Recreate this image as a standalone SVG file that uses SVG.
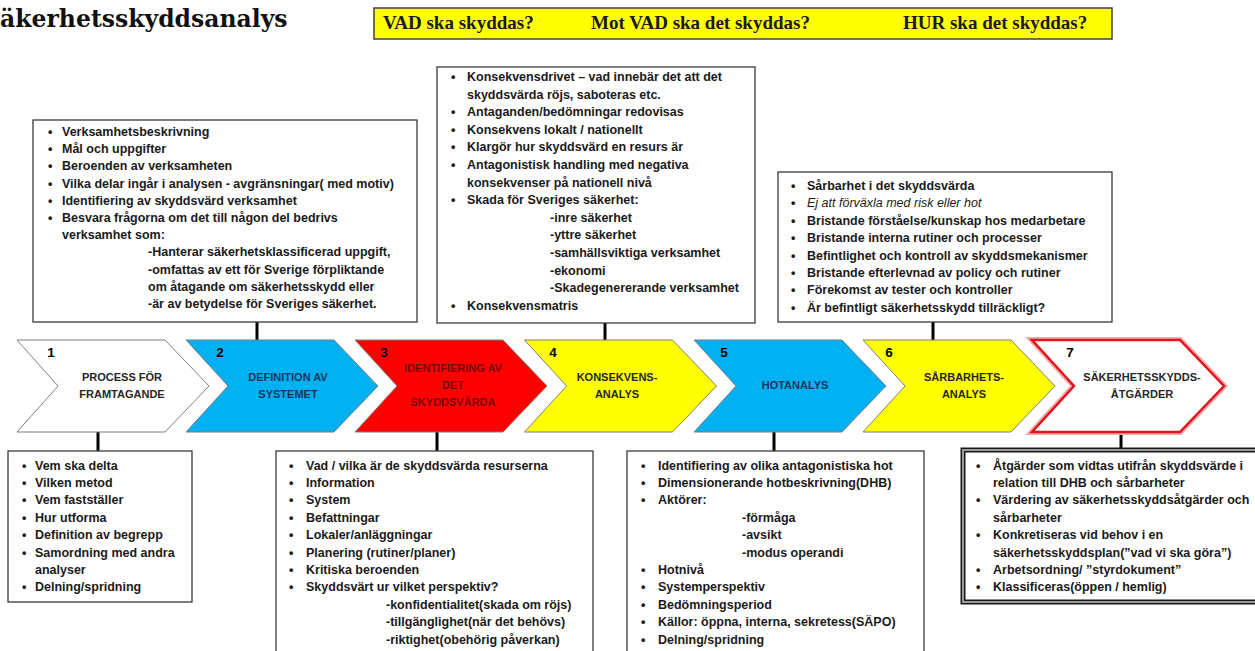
<svg xmlns="http://www.w3.org/2000/svg" width="1255" height="651" viewBox="0 0 1255 651">
<defs>
<style>
.t{font-family:"Liberation Sans",Arial,sans-serif;font-size:12.5px;font-weight:bold;fill:#1a1a1a}
.it{font-style:italic;font-weight:normal}
.box{fill:#ffffff;stroke:#3a3a3a;stroke-width:1.3}
.chev{stroke:#7f7f7f;stroke-width:1}
.ct{font-family:"Liberation Sans",Arial,sans-serif;font-size:11px;font-weight:bold;text-anchor:middle}
.num{font-family:"Liberation Sans",Arial,sans-serif;font-size:13.5px;font-weight:bold;fill:#000;text-anchor:middle}
.hdr{font-family:"Liberation Serif","Times New Roman",serif;font-size:19px;font-weight:bold;fill:#1a1a1a}
.title{font-family:"DejaVu Serif","Liberation Serif",serif;font-size:23.5px;font-weight:bold;fill:#111}
.conn line{stroke:#000;stroke-width:3}
</style>
</defs>
<rect width="1255" height="651" fill="#ffffff"/>

<g id="title">
<text class="title" x="0" y="27">äkerhetsskyddsanalys</text>
</g>

<g id="header">
<rect x="374" y="8" width="738" height="31" fill="#ffff00" stroke="#404040" stroke-width="1.5"/>
<text class="hdr" x="383" y="29">VAD ska skyddas?</text>
<text class="hdr" x="591" y="29">Mot VAD ska det skyddas?</text>
<text class="hdr" x="903" y="29">HUR ska det skyddas?</text>
</g>

<g id="connectors" class="conn">
<line x1="257" y1="322" x2="257" y2="340"/>
<line x1="605" y1="323" x2="605" y2="340"/>
<line x1="933" y1="322" x2="933" y2="340"/>
<line x1="98" y1="432" x2="98" y2="451"/>
<line x1="437" y1="432" x2="437" y2="451"/>
<line x1="774" y1="432" x2="774" y2="451"/>
<line x1="1121" y1="432" x2="1121" y2="450"/>
</g>

<g id="step1">
<polygon class="chev" fill="#ffffff" points="17,340 165,340 209,386 165,432 17,432 58,386"/>
<text class="num" x="51" y="357">1</text>
<text class="ct" fill="#262626" x="122" y="381">PROCESS FÖR</text>
<text class="ct" fill="#262626" x="122" y="398">FRAMTAGANDE</text>
</g>
<g id="step2">
<polygon class="chev" fill="#00b0f0" points="186,340 334,340 378,386 334,432 186,432 228,386"/>
<text class="num" x="220" y="357">2</text>
<text class="ct" fill="#17375e" x="288" y="381">DEFINITION AV</text>
<text class="ct" fill="#17375e" x="288" y="398">SYSTEMET</text>
</g>
<g id="step3">
<polygon class="chev" fill="#ff0000" points="355,340 503,340 547,386 503,432 355,432 397,386"/>
<text class="num" x="384" y="357">3</text>
<text class="ct" fill="#7a0000" x="453" y="372">IDENTIFIERING AV</text>
<text class="ct" fill="#7a0000" x="453" y="389">DET</text>
<text class="ct" fill="#7a0000" x="453" y="406">SKYDDSVÄRDA</text>
</g>
<g id="step4">
<polygon class="chev" fill="#ffff00" points="524.5,340 672.5,340 716.5,386 672.5,432 524.5,432 566.5,386"/>
<text class="num" x="553" y="357">4</text>
<text class="ct" fill="#262626" x="617" y="381">KONSEKVENS-</text>
<text class="ct" fill="#262626" x="617" y="398">ANALYS</text>
</g>
<g id="step5">
<polygon class="chev" fill="#00b0f0" points="694,340 842,340 886,386 842,432 694,432 736,386"/>
<text class="num" x="724" y="357">5</text>
<text class="ct" fill="#17375e" x="795" y="389">HOTANALYS</text>
</g>
<g id="step6">
<polygon class="chev" fill="#ffff00" points="863,340 1011,340 1055,386 1011,432 863,432 905,386"/>
<text class="num" x="889" y="357">6</text>
<text class="ct" fill="#262626" x="964" y="381">SÅRBARHETS-</text>
<text class="ct" fill="#262626" x="964" y="398">ANALYS</text>
</g>
<g id="step7">
<polygon fill="#ffffff" stroke="#f7a8a8" stroke-width="6" points="1032,340 1180,340 1224,386 1180,432 1032,432 1074,386"/>
<polygon fill="#ffffff" stroke="#e3141b" stroke-width="2.5" points="1032,340 1180,340 1224,386 1180,432 1032,432 1074,386"/>
<text class="num" x="1070" y="357">7</text>
<text class="ct" fill="#262626" x="1142" y="381">SÄKERHETSSKYDDS-</text>
<text class="ct" fill="#262626" x="1142" y="398">ÅTGÄRDER</text>
</g>

<g id="box-top1">
<rect class="box" x="33" y="120" width="384" height="202"/>
<text class="t" x="48" y="136">•</text><text class="t" x="62" y="136">Verksamhetsbeskrivning</text>
<text class="t" x="48" y="153.2">•</text><text class="t" x="62" y="153.2">Mål och uppgifter</text>
<text class="t" x="48" y="170.4">•</text><text class="t" x="62" y="170.4">Beroenden av verksamheten</text>
<text class="t" x="48" y="187.6">•</text><text class="t" x="62" y="187.6">Vilka delar ingår i analysen - avgränsningar( med motiv)</text>
<text class="t" x="48" y="204.8">•</text><text class="t" x="62" y="204.8">Identifiering av skyddsvärd verksamhet</text>
<text class="t" x="48" y="222">•</text><text class="t" x="62" y="222">Besvara frågorna om det till någon del bedrivs</text>
<text class="t" x="62" y="239.2">verksamhet som:</text>
<text class="t" x="148" y="256.4">-Hanterar säkerhetsklassificerad uppgift,</text>
<text class="t" x="148" y="273.6">-omfattas av ett för Sverige förpliktande</text>
<text class="t" x="148" y="290.8">om åtagande om säkerhetsskydd eller</text>
<text class="t" x="148" y="308">-är av betydelse för Sveriges säkerhet.</text>
</g>

<g id="box-top2">
<rect class="box" x="437" y="67" width="318" height="256"/>
<text class="t" x="451" y="81">•</text><text class="t" x="467" y="81">Konsekvensdrivet – vad innebär det att det</text>
<text class="t" x="467" y="98.6">skyddsvärda röjs, saboteras etc.</text>
<text class="t" x="451" y="116.2">•</text><text class="t" x="467" y="116.2">Antaganden/bedömningar redovisas</text>
<text class="t" x="451" y="133.8">•</text><text class="t" x="467" y="133.8">Konsekvens lokalt / nationellt</text>
<text class="t" x="451" y="151.4">•</text><text class="t" x="467" y="151.4">Klargör hur skyddsvärd en resurs är</text>
<text class="t" x="451" y="169">•</text><text class="t" x="467" y="169">Antagonistisk handling med negativa</text>
<text class="t" x="467" y="186.6">konsekvenser på nationell nivå</text>
<text class="t" x="451" y="204.2">•</text><text class="t" x="467" y="204.2">Skada för Sveriges säkerhet:</text>
<text class="t" x="550" y="221.8">-inre säkerhet</text>
<text class="t" x="550" y="239.4">-yttre säkerhet</text>
<text class="t" x="550" y="257">-samhällsviktiga verksamhet</text>
<text class="t" x="550" y="274.6">-ekonomi</text>
<text class="t" x="550" y="292.2">-Skadegenererande verksamhet</text>
<text class="t" x="451" y="309.8">•</text><text class="t" x="467" y="309.8">Konsekvensmatris</text>
</g>

<g id="box-top3">
<rect class="box" x="778" y="172" width="334" height="150"/>
<text class="t" x="791" y="190">•</text><text class="t" x="807" y="190">Sårbarhet i det skyddsvärda</text>
<text class="t" x="791" y="207.4">•</text><text class="t it" x="807" y="207.4">Ej att förväxla med risk eller hot</text>
<text class="t" x="791" y="224.8">•</text><text class="t" x="807" y="224.8">Bristande förståelse/kunskap hos medarbetare</text>
<text class="t" x="791" y="242.2">•</text><text class="t" x="807" y="242.2">Bristande interna rutiner och processer</text>
<text class="t" x="791" y="259.6">•</text><text class="t" x="807" y="259.6">Befintlighet och kontroll av skyddsmekanismer</text>
<text class="t" x="791" y="277">•</text><text class="t" x="807" y="277">Bristande efterlevnad av policy och rutiner</text>
<text class="t" x="791" y="294.4">•</text><text class="t" x="807" y="294.4">Förekomst av tester och kontroller</text>
<text class="t" x="791" y="311.8">•</text><text class="t" x="807" y="311.8">Är befintligt säkerhetsskydd tillräckligt?</text>
</g>

<g id="box-bottom1">
<rect class="box" x="8" y="451" width="184" height="151"/>
<text class="t" x="22" y="469.5">•</text><text class="t" x="35" y="469.5">Vem ska delta</text>
<text class="t" x="22" y="486.9">•</text><text class="t" x="35" y="486.9">Vilken metod</text>
<text class="t" x="22" y="504.3">•</text><text class="t" x="35" y="504.3">Vem fastställer</text>
<text class="t" x="22" y="521.7">•</text><text class="t" x="35" y="521.7">Hur utforma</text>
<text class="t" x="22" y="539.1">•</text><text class="t" x="35" y="539.1">Definition av begrepp</text>
<text class="t" x="22" y="556.5">•</text><text class="t" x="35" y="556.5">Samordning med andra</text>
<text class="t" x="35" y="573.9">analyser</text>
<text class="t" x="22" y="591.3">•</text><text class="t" x="35" y="591.3">Delning/spridning</text>
</g>

<g id="box-bottom2">
<rect class="box" x="276" y="451" width="317" height="210"/>
<text class="t" x="289" y="469.5">•</text><text class="t" x="306" y="469.5">Vad / vilka är de skyddsvärda resurserna</text>
<text class="t" x="289" y="486.9">•</text><text class="t" x="306" y="486.9">Information</text>
<text class="t" x="289" y="504.3">•</text><text class="t" x="306" y="504.3">System</text>
<text class="t" x="289" y="521.7">•</text><text class="t" x="306" y="521.7">Befattningar</text>
<text class="t" x="289" y="539.1">•</text><text class="t" x="306" y="539.1">Lokaler/anläggningar</text>
<text class="t" x="289" y="556.5">•</text><text class="t" x="306" y="556.5">Planering (rutiner/planer)</text>
<text class="t" x="289" y="573.9">•</text><text class="t" x="306" y="573.9">Kritiska beroenden</text>
<text class="t" x="289" y="591.3">•</text><text class="t" x="306" y="591.3">Skyddsvärt ur vilket perspektiv?</text>
<text class="t" x="386" y="608.7">-konfidentialitet(skada om röjs)</text>
<text class="t" x="386" y="626.1">-tillgänglighet(när det behövs)</text>
<text class="t" x="386" y="643.5">-riktighet(obehörig påverkan)</text>
</g>

<g id="box-bottom3">
<rect class="box" x="627" y="451" width="297" height="210"/>
<text class="t" x="641" y="469.5">•</text><text class="t" x="658" y="469.5">Identifiering av olika antagonistiska hot</text>
<text class="t" x="641" y="486.9">•</text><text class="t" x="658" y="486.9">Dimensionerande hotbeskrivning(DHB)</text>
<text class="t" x="641" y="504.3">•</text><text class="t" x="658" y="504.3">Aktörer:</text>
<text class="t" x="742" y="521.7">-förmåga</text>
<text class="t" x="742" y="539.1">-avsikt</text>
<text class="t" x="742" y="556.5">-modus operandi</text>
<text class="t" x="641" y="573.9">•</text><text class="t" x="658" y="573.9">Hotnivå</text>
<text class="t" x="641" y="591.3">•</text><text class="t" x="658" y="591.3">Systemperspektiv</text>
<text class="t" x="641" y="608.7">•</text><text class="t" x="658" y="608.7">Bedömningsperiod</text>
<text class="t" x="641" y="626.1">•</text><text class="t" x="658" y="626.1">Källor: öppna, interna, sekretess(SÄPO)</text>
<text class="t" x="641" y="643.5">•</text><text class="t" x="658" y="643.5">Delning/spridning</text>
</g>

<g id="box-bottom4">
<rect x="963" y="450" width="300" height="152" fill="#ffffff" stroke="#1a1a1a" stroke-width="5"/>
<rect x="963" y="450" width="300" height="152" fill="none" stroke="#9a9a9a" stroke-width="2"/>
<text class="t" x="976" y="469.5">•</text><text class="t" x="993" y="469.5">Åtgärder som vidtas utifrån skyddsvärde i</text>
<text class="t" x="993" y="486.9">relation till DHB och sårbarheter</text>
<text class="t" x="976" y="504.3">•</text><text class="t" x="993" y="504.3">Värdering av säkerhetsskyddsåtgärder och</text>
<text class="t" x="993" y="521.7">sårbarheter</text>
<text class="t" x="976" y="539.1">•</text><text class="t" x="993" y="539.1">Konkretiseras vid behov i en</text>
<text class="t" x="993" y="556.5">säkerhetsskyddsplan(”vad vi ska göra”)</text>
<text class="t" x="976" y="573.9">•</text><text class="t" x="993" y="573.9">Arbetsordning/ ”styrdokument”</text>
<text class="t" x="976" y="591.3">•</text><text class="t" x="993" y="591.3">Klassificeras(öppen / hemlig)</text>
</g>
</svg>
